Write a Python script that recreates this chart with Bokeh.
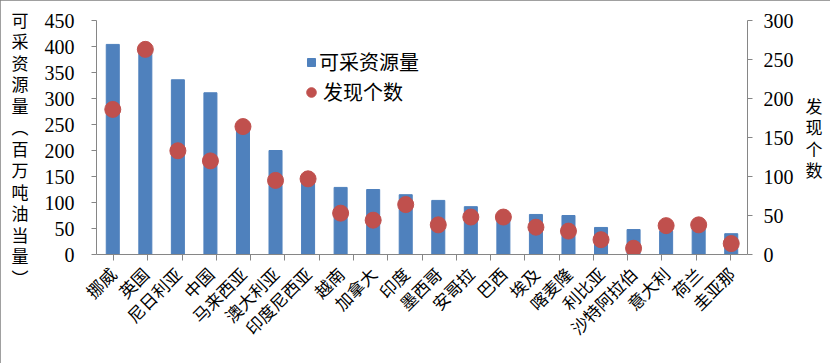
from bokeh.plotting import figure
from bokeh.models import (FactorRange, Range1d, LinearAxis, CategoricalAxis, FixedTicker,
                          Legend, LegendItem)
from bokeh.embed import file_html
from bokeh.resources import INLINE
import math

# ---- data ----
countries = ["挪威", "英国", "尼日利亚", "中国", "马来西亚", "澳大利亚", "印度尼西亚", "越南",
             "加拿大", "印度", "墨西哥", "安哥拉", "巴西", "埃及", "喀麦隆", "利比亚",
             "沙特阿拉伯", "意大利", "荷兰", "圭亚那"]
reserves = [404, 395, 336, 311, 246, 200, 147, 129, 125, 115, 104, 92, 72, 77, 75, 52, 48, 45, 50, 40]
discoveries = [186, 263, 133, 120, 164, 95, 97, 53, 44, 64, 38, 48, 48, 35, 30, 19, 8, 37, 38, 14]
left_ticks = [0, 50, 100, 150, 200, 250, 300, 350, 400, 450]
right_ticks = [0, 50, 100, 150, 200, 250, 300]
left_title = "可采资源量︵百万吨油当量︶"
right_title = "发现个数"
bar_name = "可采资源量"
dot_name = "发现个数"

BLUE = "#4F81BD"
RED = "#C0504D"
AXIS = "#868686"
NUM_FONT = "Liberation Serif"
CJK_FONT = "Noto Sans CJK SC"

p = figure(x_range=FactorRange(factors=countries, range_padding=0),
           y_range=Range1d(0, 450),
           frame_width=651, frame_height=234,
           min_border_left=96, min_border_right=83, min_border_top=20, min_border_bottom=109,
           output_backend="svg", toolbar_location=None,
           x_axis_location=None, y_axis_location=None)
p.extra_y_ranges = {"right": Range1d(0, 300)}
# boundary factors: one per category edge, centred on the category boundaries
edges = [" " * (k + 1) for k in range(len(countries) + 1)]
p.extra_x_ranges = {"edges": FactorRange(factors=edges, range_padding=-1,
                                         range_padding_units="absolute")}
p.xgrid.visible = False
p.ygrid.visible = False
p.outline_line_color = None
p.background_fill_color = "white"
p.border_fill_color = "white"
p.styles = {"outline": "2px solid #808080", "outline-offset": "-2px"}

bars = p.vbar(x=countries, top=reserves, width=0.4, color=BLUE)
dots = p.scatter(x=countries, y=discoveries, size=16, color=RED, y_range_name="right")

# y axes
ly = LinearAxis(ticker=FixedTicker(ticks=left_ticks))
ry = LinearAxis(ticker=FixedTicker(ticks=right_ticks), y_range_name="right")
for ax, st in ((ly, 17), (ry, 11)):
    ax.axis_line_color = AXIS
    ax.major_tick_line_color = AXIS
    ax.major_tick_out = 5
    ax.major_tick_in = 0
    ax.minor_tick_line_color = None
    ax.major_label_text_font = NUM_FONT
    ax.major_label_text_font_size = "20px"
    ax.major_label_text_color = "black"
    ax.major_label_standoff = st
    ax.axis_label_orientation = "horizontal"
    ax.axis_label_text_font = CJK_FONT
    ax.axis_label_text_font_size = "17px"
    ax.axis_label_text_font_style = "normal"
    ax.axis_label_text_color = "black"
    ax.axis_label_text_line_height = 0.86
ly.axis_label = "\n".join(["\u3000"] + list(left_title))
ly.axis_label_standoff = 13
ry.axis_label = "\n".join(right_title)
ry.axis_label_standoff = 9
p.add_layout(ly, "left")
p.add_layout(ry, "right")

# bottom tick axis (ticks between categories)
tx = CategoricalAxis(x_range_name="edges")
tx.axis_line_color = AXIS
tx.major_tick_line_color = AXIS
tx.major_tick_out = 6
tx.major_tick_in = 0
tx.minor_tick_line_color = None
tx.major_label_text_font_size = "0px"
tx.major_label_text_color = None
tx.major_label_standoff = 0
p.add_layout(tx, "below")

cx = CategoricalAxis()
cx.axis_line_color = None
cx.major_tick_line_color = None
cx.minor_tick_line_color = None
cx.major_label_orientation = math.pi / 4
cx.major_label_text_font = CJK_FONT
cx.major_label_text_font_size = "17px"
cx.major_label_text_color = "black"
cx.major_label_standoff = 4
p.add_layout(cx, "below")

# legends
leg_a = Legend(items=[LegendItem(label=bar_name, renderers=[bars])],
               location=(210, 178), glyph_width=10, glyph_height=10, label_height=10,
               label_standoff=3, padding=0, margin=0, border_line_color=None,
               background_fill_alpha=0, label_text_font=CJK_FONT,
               label_text_font_size="20px", label_text_color="black")
leg_b = Legend(items=[LegendItem(label=dot_name, renderers=[dots])],
               location=(203, 148), glyph_width=24, glyph_height=28, label_height=28,
               label_standoff=0, padding=0, margin=0, border_line_color=None,
               background_fill_alpha=0, label_text_font=CJK_FONT,
               label_text_font_size="20px", label_text_color="black")
p.add_layout(leg_a, "center")
p.add_layout(leg_b, "center")

open("out.html", "w").write(file_html(p, INLINE))
